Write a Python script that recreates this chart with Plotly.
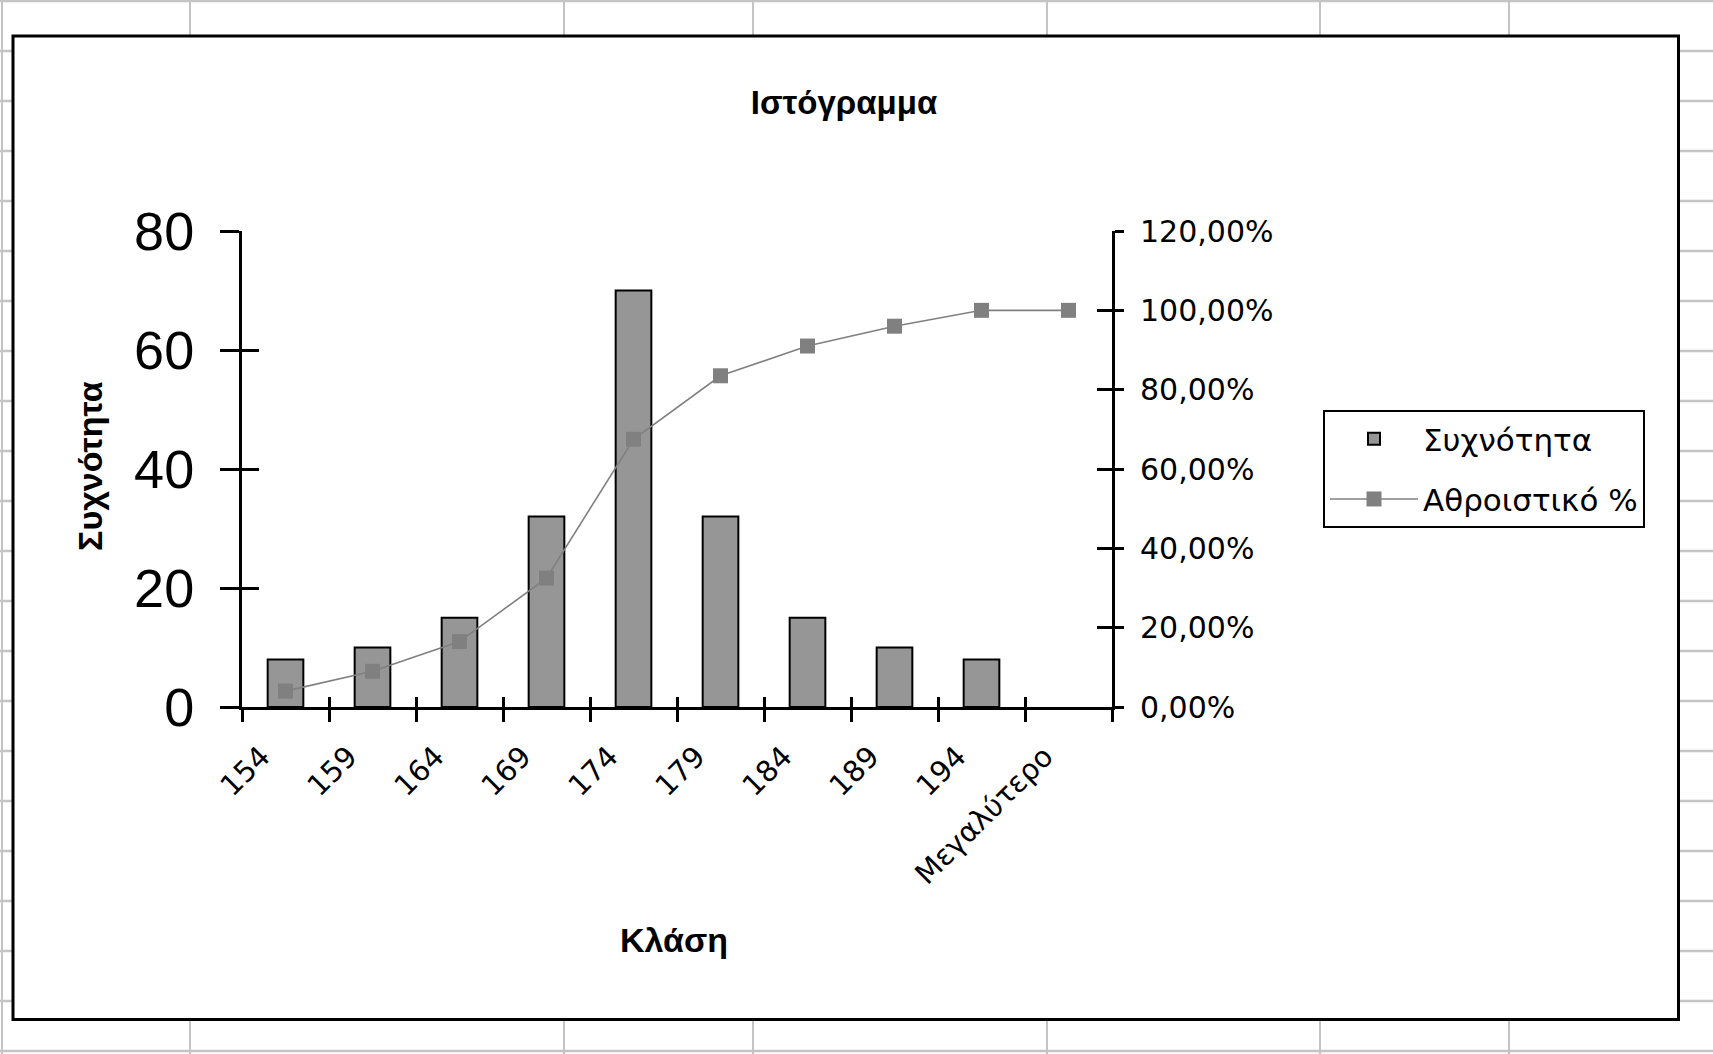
import plotly.graph_objects as go

# ---------------- data ----------------
categories = ["154", "159", "164", "169", "174", "179", "184", "189", "194", "Μεγαλύτερο"]
freq = [8, 10, 15, 32, 70, 32, 15, 10, 8, 0]
cum_pct = [4.0, 9.0, 16.5, 32.5, 67.5, 83.5, 91.0, 96.0, 100.0, 100.0]
left_tickvals = [0, 20, 40, 60, 80]
right_tickvals = [0, 20, 40, 60, 80, 100, 120]
right_ticktext = ["0,00%", "20,00%", "40,00%", "60,00%", "80,00%", "100,00%", "120,00%"]
boundaries = [-0.5, 0.5, 1.5, 2.5, 3.5, 4.5, 5.5, 6.5, 7.5, 8.5, 9.5]

# ---------------- layout geometry ----------------
W, H = 1713, 1054
L, R, T, B = 242, 601, 231, 347
PW, PH = W - L - R, H - T - B


def px(x):
    return (x - L) / PW


def py(y):
    return 1 - (y - T) / PH


# no outline for empty (zero-height) bars
bar_edge = [2 if v > 0 else 0 for v in freq]

fig = go.Figure()

fig.add_trace(go.Bar(
    x=categories, y=freq, name="Συχνότητα",
    marker=dict(color="#969696", line=dict(color="black", width=bar_edge)),
    legendgroup="a",
))
fig.add_trace(go.Scatter(
    x=categories, y=cum_pct, name="Αθροιστικό %", yaxis="y2",
    mode="lines+markers",
    line=dict(color="#808080", width=1.6),
    marker=dict(symbol="square", size=15, color="#808080"),
    legendgroup="b",
))
# empty helper traces so the overlay tick axes are drawn
fig.add_trace(go.Scatter(x=[], y=[], xaxis="x2", yaxis="y", showlegend=False, hoverinfo="skip"))
fig.add_trace(go.Scatter(x=[], y=[], xaxis="x", yaxis="y3", showlegend=False, hoverinfo="skip"))
fig.add_trace(go.Scatter(x=[], y=[], xaxis="x", yaxis="y4", showlegend=False, hoverinfo="skip"))

# ---------------- background: spreadsheet grid + chart box ----------------
shapes = []
grid_col = "#c4c4c4"
for gx in [2, 190, 564, 753, 1047, 1320, 1509]:
    shapes.append(dict(type="line", xref="paper", yref="paper", layer="below",
                       x0=px(gx), x1=px(gx), y0=py(0), y1=py(H),
                       line=dict(color=grid_col, width=2)))
for k in range(22):
    gy = 1 + 50 * k
    shapes.append(dict(type="line", xref="paper", yref="paper", layer="below",
                       x0=px(0), x1=px(W), y0=py(gy), y1=py(gy),
                       line=dict(color=grid_col, width=2.5)))
shapes.append(dict(type="rect", xref="paper", yref="paper", layer="below",
                   x0=px(13), x1=px(1678.5), y0=py(36), y1=py(1019.5),
                   fillcolor="white", line=dict(color="black", width=3)))

fig.update_layout(
    width=W, height=H,
    margin=dict(l=L, r=R, t=T, b=B, pad=0),
    paper_bgcolor="white",
    plot_bgcolor="rgba(0,0,0,0)",
    bargap=0.59,
    showlegend=True,
    shapes=shapes,
    title=dict(text="<b>Ιστόγραμμα</b>", xref="container", yref="container",
               x=844 / W, y=1 - 102 / H, xanchor="center", yanchor="middle",
               font=dict(family="Liberation Sans", size=33, color="black")),
    xaxis=dict(
        type="category", range=[-0.5, 9.5],
        showline=True, linecolor="black", linewidth=3,
        ticks="outside", tickson="boundaries", ticklen=12, tickwidth=2.5, tickcolor="black",
        tickangle=-45, tickfont=dict(family="DejaVu Sans", size=29, color="black"),
        ticklabelstandoff=18, ticklabelshift=-24,
        showgrid=False, zeroline=False,
    ),
    xaxis2=dict(
        overlaying="x", anchor="y", side="bottom", type="linear", range=[-0.5, 9.5],
        tickvals=boundaries, ticks="inside", ticklen=10, tickwidth=2.5, tickcolor="black",
        showticklabels=False, showline=False, showgrid=False, zeroline=False,
    ),
    yaxis=dict(
        range=[0, 80], tickvals=left_tickvals,
        showline=True, linecolor="black", linewidth=3,
        ticks="outside", ticklen=19, tickwidth=2.5, tickcolor="black",
        tickfont=dict(family="Liberation Sans", size=54, color="black"),
        ticklabelstandoff=15,
        showgrid=False, zeroline=False,
    ),
    yaxis3=dict(
        overlaying="y", anchor="x", side="left", range=[0, 80], tickvals=left_tickvals,
        ticks="inside", ticklen=17, tickwidth=2.5, tickcolor="black",
        showticklabels=False, showline=False, showgrid=False, zeroline=False,
    ),
    yaxis2=dict(
        overlaying="y", anchor="x", side="right", range=[0, 120],
        tickvals=right_tickvals, ticktext=right_ticktext,
        showline=True, linecolor="black", linewidth=3,
        ticks="outside", ticklen=9, tickwidth=2.5, tickcolor="black",
        tickfont=dict(family="DejaVu Sans", size=30, color="black"),
        ticklabelstandoff=10,
        showgrid=False, zeroline=False,
    ),
    yaxis4=dict(
        overlaying="y", anchor="x", side="right", range=[0, 120], tickvals=right_tickvals,
        ticks="inside", ticklen=15, tickwidth=2.5, tickcolor="black",
        showticklabels=False, showline=False, showgrid=False, zeroline=False,
    ),
    legend=dict(
        x=px(1323), y=py(410), xanchor="left", yanchor="top",
        bgcolor="white", bordercolor="black", borderwidth=2,
        font=dict(family="DejaVu Sans", size=31, color="black"),
        itemwidth=88, traceorder="grouped", tracegroupgap=17,
    ),
    annotations=[
        dict(text="<b>Συχνότητα</b>", xref="paper", yref="paper",
             x=px(90), y=py(466), xanchor="center", yanchor="middle",
             textangle=-90, showarrow=False,
             font=dict(family="Liberation Sans", size=34, color="black")),
        dict(text="<b>Κλάση</b>", xref="paper", yref="paper",
             x=px(674), y=py(940), xanchor="center", yanchor="middle",
             showarrow=False,
             font=dict(family="Liberation Sans", size=34, color="black")),
    ],
)

fig.write_html("out.html")
